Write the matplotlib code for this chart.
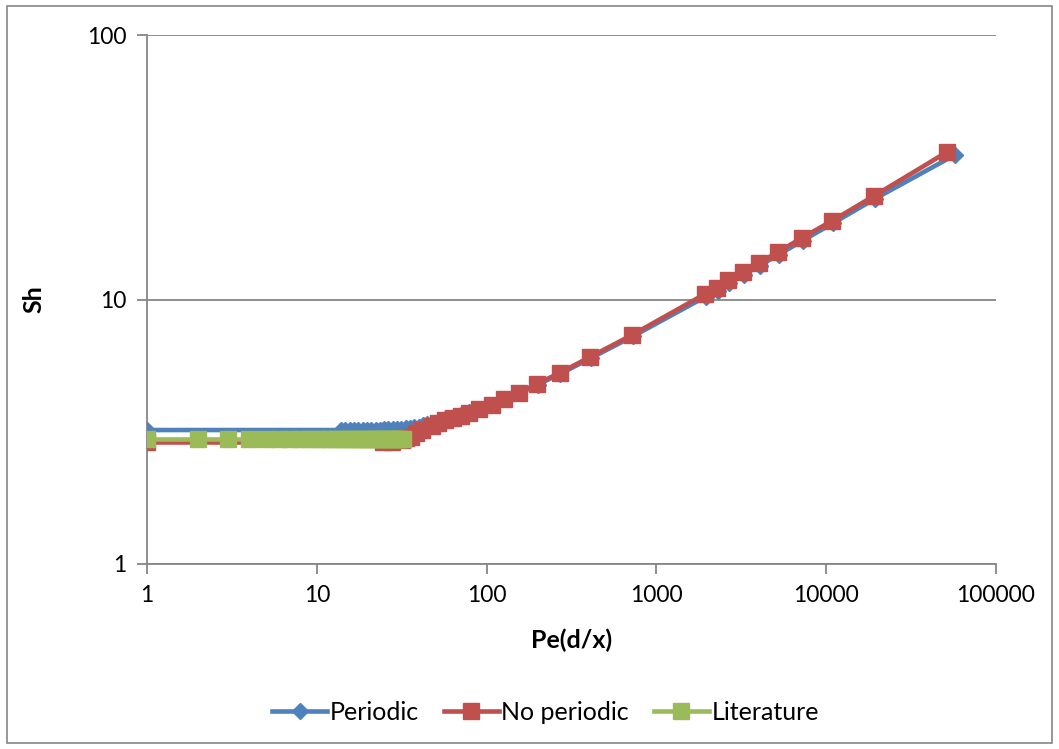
import matplotlib
matplotlib.use("Agg")
import matplotlib.pyplot as plt
from matplotlib.patches import Rectangle
from matplotlib.ticker import FixedLocator, NullLocator

plt.rcParams['font.family'] = ['Lato', 'DejaVu Sans']

# ---- datos ----
pe_periodic = [1, 13.8, 14.7, 15.6, 16.5, 17.5, 18.6, 19.7, 20.9, 22.2, 23.5,
               24.9, 26.4, 28.0, 29.7, 31.5, 33.4, 35.4, 37.5, 39.8, 42.2, 44.7,
               48.5, 52.5, 57.5, 64, 71, 79, 91, 108, 127, 156, 200, 272, 410,
               725, 1950, 2290, 2660, 3260, 4050, 5250, 7270, 10900, 19400, 57300]
sh_periodic = [3.21, 3.21, 3.21, 3.21, 3.21, 3.21, 3.21, 3.22, 3.22, 3.22, 3.22,
               3.23, 3.23, 3.24, 3.24, 3.25, 3.26, 3.27, 3.29, 3.31, 3.34, 3.38,
               3.42, 3.48, 3.55, 3.60, 3.66, 3.74, 3.86, 4.00, 4.19, 4.42, 4.77,
               5.24, 6.00, 7.25, 10.25, 10.80, 11.58, 12.42, 13.43, 14.78, 16.71,
               19.38, 24.05, 35.2]

pe_no_periodic = [1, 24.5, 27.7, 31.8, 33.5, 35.9, 38.4, 41.7, 47.7, 51.7, 56.9,
                  63.4, 70.6, 78.7, 90.2, 107.6, 126.5, 155.2, 198, 270, 406, 718,
                  1933, 2271, 2636, 3229, 4016, 5198, 7196, 10810, 19100, 51440]
sh_no_periodic = [2.88, 2.88, 2.88, 2.94, 2.99, 3.02, 3.13, 3.21, 3.32, 3.41, 3.50,
                  3.56, 3.63, 3.72, 3.85, 3.99, 4.20, 4.43, 4.80, 5.28, 6.06, 7.34,
                  10.49, 11.05, 11.85, 12.70, 13.74, 15.12, 17.09, 19.82, 24.62, 36.1]

pe_literature = [1, 2, 3, 4, 5, 6, 7, 8, 9, 10, 11, 12, 13, 14, 15, 16, 17, 18,
                 19, 20, 21, 22, 23, 24, 25, 26, 27, 28, 29, 30, 31, 32]
sh_literature = [2.96] * len(pe_literature)

x_ticks = [1, 10, 100, 1000, 10000, 100000]
y_ticks = [1, 10, 100]

AZUL = "#4F81BD"
ROJO = "#C0504D"
VERDE = "#9BBB59"
GRIS = "#868686"

fig = plt.figure(figsize=(10.59, 7.49), dpi=100)
W, H = 1059, 749
ax = fig.add_axes([147 / W, 1 - 564 / H, (996 - 147) / W, (564 - 35) / H])

# borde del area del grafico
fig.patches.append(Rectangle((7 / W, 1 - 743 / H), (1052 - 7) / W, (743 - 6) / H,
                             transform=fig.transFigure, fill=False,
                             edgecolor=GRIS, linewidth=1.2))

ax.plot(pe_periodic, sh_periodic, color=AZUL, linewidth=3.3, marker="D",
        markersize=8, label="Periodic", zorder=3)
ax.plot(pe_no_periodic, sh_no_periodic, color=ROJO, linewidth=3.3, marker="s",
        markersize=12, label="No periodic", zorder=4)
ax.plot(pe_literature, sh_literature, color=VERDE, linewidth=3.3, marker="s",
        markersize=12, label="Literature", zorder=5)

ax.set_xscale("log")
ax.set_yscale("log")
ax.set_xlim(1, 100000)
ax.set_ylim(1, 100)
ax.xaxis.set_major_locator(FixedLocator(x_ticks))
ax.yaxis.set_major_locator(FixedLocator(y_ticks))
ax.xaxis.set_minor_locator(NullLocator())
ax.yaxis.set_minor_locator(NullLocator())
ax.set_xticklabels([str(v) for v in x_ticks])
ax.set_yticklabels([str(v) for v in y_ticks])

ax.grid(axis="y", color=GRIS, linewidth=1.3)
ax.set_axisbelow(True)
for s in ["top", "right"]:
    ax.spines[s].set_visible(False)
for s in ["left", "bottom"]:
    ax.spines[s].set_color(GRIS)
    ax.spines[s].set_linewidth(1.3)
ax.tick_params(axis="both", direction="out", length=7, width=1.3, color=GRIS,
               labelsize=16.5, pad=8)

ax.set_xlabel("Pe(d/x)", fontsize=18, fontweight="bold", labelpad=16)
ax.set_ylabel("Sh", fontsize=18, fontweight="bold", labelpad=30)

fig.legend(loc="center", bbox_to_anchor=(0.515, 1 - 712 / H), ncol=3, frameon=False,
           fontsize=18, handlelength=2.2, handletextpad=0.1, columnspacing=1.0)

fig.savefig("out.png", dpi=100)
